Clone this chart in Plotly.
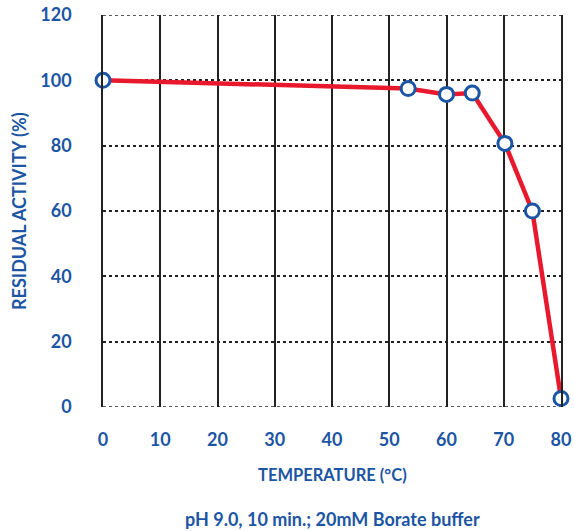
import plotly.graph_objects as go

temperature = [0, 53.3, 60, 64.5, 70.2, 75, 80]
activity = [100, 97.5, 95.7, 96.1, 80.7, 60, 2.6]
x_ticks = [0, 10, 20, 30, 40, 50, 60, 70, 80]
y_ticks = [0, 20, 40, 60, 80, 100, 120]

blue = "#1c55a3"
red = "#e8192c"
grid = "#222"

fig = go.Figure()
fig.add_trace(go.Scatter(
    x=temperature, y=activity, mode="lines+markers",
    line=dict(color=red, width=4.5),
    marker=dict(size=14, color="white", line=dict(color=blue, width=3)),
    cliponaxis=False, showlegend=False,
))

# dotted boundary lines at the first and last y tick
for yv in (y_ticks[0], y_ticks[-1]):
    fig.add_shape(type="line", xref="paper", yref="y", x0=0, x1=1, y0=yv, y1=yv,
                  line=dict(color=grid, width=1.5, dash="dot"), layer="below")

fig.update_layout(
    width=574, height=531,
    margin=dict(l=103, r=13, t=15, b=124),
    plot_bgcolor="white", paper_bgcolor="white",
    font=dict(family="Lato", color=blue),
    xaxis=dict(
        range=[0, 80], tickvals=x_ticks, showgrid=True, gridcolor=grid,
        gridwidth=1.5, zeroline=False, showline=False, automargin=False,
        ticks="outside", ticklen=16, tickcolor="rgba(0,0,0,0)",
        tickfont=dict(size=18, family="Lato", weight="bold", color=blue),
    ),
    yaxis=dict(
        range=[0, 120], tickvals=y_ticks, showgrid=True, gridcolor=grid,
        gridwidth=1.5, griddash="dot", zeroline=False, automargin=False,
        showline=True, mirror=True, linecolor=grid, linewidth=1.5,
        ticks="outside", ticklen=26, tickcolor="rgba(0,0,0,0)",
        tickfont=dict(size=18, family="Lato", weight="bold", color=blue),
    ),
    annotations=[
        dict(text="TEMPERATURE (°C)", xref="paper", yref="paper", x=0.5, y=0,
             yshift=-68, showarrow=False, yanchor="middle",
             font=dict(size=16.5, weight="bold", color=blue, family="Lato")),
        dict(text="RESIDUAL ACTIVITY (%)", xref="paper", yref="paper", x=0, y=0.5,
             xshift=-84, showarrow=False, xanchor="center", yanchor="middle", textangle=-90,
             font=dict(size=18, weight="bold", color=blue, family="Lato")),
        dict(text="pH 9.0, 10 min.; 20mM Borate buffer", xref="paper", yref="paper",
             x=0.5, y=0, yshift=-112, showarrow=False, yanchor="middle",
             font=dict(size=18, weight="bold", color=blue, family="Lato")),
    ],
)

fig.write_html("out.html", config={"displayModeBar": False},
               post_script="document.body.style.margin='0';document.body.style.overflow='hidden';")
